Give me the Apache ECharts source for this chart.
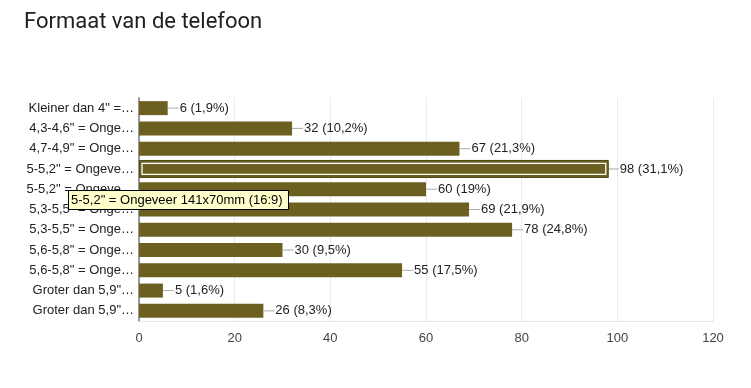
<!DOCTYPE html>
<html><head><meta charset="utf-8">
<script src="https://cdn.jsdelivr.net/npm/echarts@6/dist/echarts.min.js"></script>
<style>html,body{margin:0;padding:0;background:#fff}#c{width:751px;height:388px}</style>
</head><body><div id="c"></div>
<script>
var categories = [
  'Kleiner dan 4" =…',
  '4,3-4,6" = Onge…',
  '4,7-4,9" = Onge…',
  '5-5,2" = Ongeve…',
  '5-5,2" = Ongeve…',
  '5,3-5,5" = Onge…',
  '5,3-5,5" = Onge…',
  '5,6-5,8" = Onge…',
  '5,6-5,8" = Onge…',
  'Groter dan 5,9"…',
  'Groter dan 5,9"…'
];
var values = [6, 32, 67, 98, 60, 69, 78, 30, 55, 5, 26];
var percentLabels = ['1,9%', '10,2%', '21,3%', '31,1%', '19%', '21,9%', '24,8%', '9,5%', '17,5%', '1,6%', '8,3%'];
var xTicks = [0, 20, 40, 60, 80, 100, 120];
var highlightIndex = 3;
var tooltipText = '5-5,2" = Ongeveer 141x70mm (16:9)';

var barColor = '#6b6020';
var font = 'Arial, Liberation Sans';
var chart = echarts.init(document.getElementById('c'), null, {renderer: 'canvas'});
chart.setOption({
  animation: false,
  title: {
    text: 'Formaat van de telefoon', left: 24, top: 11, padding: 0,
    textStyle: {fontFamily: 'Roboto', fontSize: 22, fontWeight: 'normal', color: '#212121'}
  },
  grid: {left: 139, right: 38, top: 98, bottom: 67, containLabel: false, show: false},
  xAxis: {
    type: 'value', min: xTicks[0], max: xTicks[xTicks.length - 1], interval: 20,
    axisLine: {show: true, lineStyle: {color: '#e6e6e6', width: 1}},
    axisTick: {show: false},
    splitLine: {show: true, lineStyle: {color: '#ebebeb', width: 1}},
    axisLabel: {margin: 11, fontFamily: font, fontSize: 13, color: '#444'}
  },
  yAxis: [{
    type: 'category', data: categories, inverse: true,
    axisLine: {show: true, lineStyle: {color: '#999', width: 2}},
    axisTick: {show: false},
    axisLabel: {margin: 5, fontFamily: font, fontSize: 13, color: '#222'}
  }],
  series: [{
    type: 'bar', barWidth: 14,
    data: values.map(function (v) { return {value: v}; }),
    itemStyle: {color: barColor},
    label: {
      show: true, position: 'right', distance: 0,
      formatter: function (p) {
        return '{ln|}{t|' + p.value + ' (' + percentLabels[p.dataIndex] + ')}';
      },
      rich: {
        ln: {width: 11, height: 1, backgroundColor: '#aaa'},
        t: {fontFamily: font, fontSize: 13, color: '#222', padding: [0, 0, 0, 1]}
      }
    },
    z: 2
  }, {
    type: 'custom',
    data: [[values[highlightIndex], highlightIndex]],
    renderItem: function (params, api) {
      var p0 = api.coord([0, api.value(1)]);
      var p1 = api.coord([api.value(0), api.value(1)]);
      var h = 14;
      return {
        type: 'group',
        children: [{
          type: 'rect',
          shape: {x: p0[0] + 0.5, y: p0[1] - h / 2 - 1.5, width: p1[0] - p0[0], height: h + 3},
          style: {fill: barColor, stroke: '#4d4514', lineWidth: 1}
        }, {
          type: 'rect',
          shape: {x: p0[0] + 3, y: p0[1] - h / 2 + 1.5, width: p1[0] - p0[0] - 5, height: h - 3},
          style: {fill: barColor, stroke: '#fff', lineWidth: 1.3}
        }]
      };
    },
    z: 3
  }],
  graphic: [{
    type: 'group', left: 68, top: 190, zlevel: 5, z: 100,
    children: [{
      type: 'rect', zlevel: 5, shape: {x: 0.5, y: 0.5, width: 220, height: 19},
      style: {fill: '#ffffcc', stroke: '#000', lineWidth: 1}
    }, {
      type: 'text', zlevel: 5, x: 3, y: 10.5,
      style: {text: tooltipText, fontFamily: font, fontSize: 13, fill: '#000', verticalAlign: 'middle'}
    }]
  }]
});
</script></body></html>
